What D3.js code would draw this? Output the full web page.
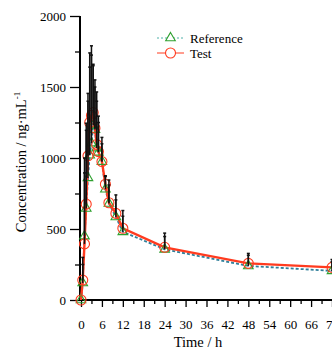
<!DOCTYPE html>
<html>
<head>
<meta charset="utf-8">
<script src="https://cdn.jsdelivr.net/npm/d3@7"></script>
<style>
  html, body { margin: 0; padding: 0; background: #fff; }
  svg { display: block; }
  svg text { font-family: "Liberation Serif", "Times New Roman", serif; }
</style>
</head>
<body>
<div id="chart"></div>
<script>
// sampling times (h)
const times = [0, 0.5, 1, 1.5, 2, 2.5, 3, 3.5, 4, 4.5, 5, 6, 7, 8, 10, 12, 24, 48, 72];
// mean concentrations (ng/mL) and SD
const refMean = [0, 120, 450, 645, 860, 1020, 1105, 1230, 1200, 1070, 1040, 975, 780, 680, 585, 480, 357, 240, 205];
const refSd = [0, 130, 550, 550, 540, 620, 620, 420, 300, 330, 210, 125, 90, 130, 120, 110, 90, 75, 65];
const testMean = [0, 140, 395, 675, 1015, 1250, 1300, 1320, 1210, 1095, 1045, 975, 815, 685, 610, 505, 371, 258, 230];
const testSd = [0, 160, 500, 570, 440, 490, 490, 340, 340, 370, 250, 170, 60, 160, 130, 125, 100, 70, 55];
const xTicks = [0, 6, 12, 18, 24, 30, 36, 42, 48, 54, 60, 66, 72];
const yTicks = [0, 500, 1000, 1500, 2000];
const seriesNames = ["Reference", "Test"];

const width = 332, height = 350;

const svg = d3.select("#chart").append("svg")
    .attr("width", width)
    .attr("height", height);

const x = d3.scaleLinear().domain([0, 72]).range([81, 332]);
const y = d3.scaleLinear().domain([0, 2000]).range([300, 16]);

const ref = times.map((t, i) => ({ t: t, v: refMean[i], sd: refSd[i] }));
const test = times.map((t, i) => ({ t: t, v: testMean[i], sd: testSd[i] }));

// axes
const xMinor = d3.range(0, 79, 3).filter(d => d % 6 !== 0);
svg.append("g")
    .attr("transform", `translate(0,${y(0)})`)
    .call(d3.axisBottom(x).tickValues(xMinor).tickSize(4).tickFormat(""))
    .call(g => g.select(".domain").remove())
    .selectAll("line").attr("stroke-width", 1.3);

const xAxis = svg.append("g")
    .attr("transform", `translate(0,${y(0)})`)
    .call(d3.axisBottom(x).tickValues(xTicks).tickSize(7).tickPadding(13).tickFormat(d3.format("d")));
xAxis.attr("font-family", null);
xAxis.select(".domain").attr("d", `M80,0H340`).attr("stroke-width", 2);
xAxis.selectAll("line").attr("stroke-width", 1.3);
xAxis.selectAll("text").attr("font-size", 13);

const yMinor = [250, 750, 1250, 1750];
svg.append("g")
    .attr("transform", `translate(80,0)`)
    .call(d3.axisLeft(y).tickValues(yMinor).tickSize(5).tickFormat(""))
    .call(g => g.select(".domain").remove())
    .selectAll("line").attr("stroke-width", 1.3);

const yAxis = svg.append("g")
    .attr("transform", `translate(80,0)`)
    .call(d3.axisLeft(y).tickValues(yTicks).tickSize(10).tickPadding(4).tickFormat(d3.format("d")));
yAxis.attr("font-family", null);
yAxis.select(".domain").attr("d", `M0,${y(2000)}V${y(0)}`).attr("stroke-width", 2);
yAxis.selectAll("line").attr("stroke-width", 1.3);
yAxis.selectAll("text").attr("font-size", 13);

// axis titles
svg.append("text")
    .attr("x", 198).attr("y", 347)
    .attr("text-anchor", "middle")
    .attr("font-size", 14.5)
    .text("Time / h");

const yt = svg.append("text")
    .attr("transform", "translate(26,162) rotate(-90)")
    .attr("text-anchor", "middle")
    .attr("font-size", 14.5);
yt.append("tspan").text("Concentration / ng\u00b7mL");
yt.append("tspan").attr("font-size", 9).attr("dy", -6).text("-1");

// lines
const line = d3.line().x(d => x(d.t)).y(d => y(d.v));

svg.append("path").datum(ref)
    .attr("fill", "none")
    .attr("stroke", "#2f7f9a")
    .attr("stroke-width", 1.8)
    .attr("stroke-dasharray", "3,2")
    .attr("d", line);

svg.append("path").datum(test)
    .attr("fill", "none")
    .attr("stroke", "#ff3b1f")
    .attr("stroke-width", 2.4)
    .attr("d", line);

// markers
const tri = d3.symbol().type(d3.symbolTriangle).size(40);
svg.append("g").selectAll("path")
    .data(ref)
    .join("path")
    .attr("d", tri)
    .attr("transform", d => `translate(${x(d.t)},${y(d.v)})`)
    .attr("fill", "none")
    .attr("stroke", "#2ea02e")
    .attr("stroke-width", 1.1);

svg.append("g").selectAll("circle")
    .data(test)
    .join("circle")
    .attr("cx", d => x(d.t))
    .attr("cy", d => y(d.v))
    .attr("r", 5)
    .attr("fill", "none")
    .attr("stroke", "#ff3b1f")
    .attr("stroke-width", 1.1);

// error bars (upper SD only)
const bars = ref.concat(test).filter(d => d.sd > 0);
const eb = svg.append("g").attr("stroke", "#111").attr("stroke-width", 1.5);
eb.selectAll("line.v")
    .data(bars)
    .join("line")
    .attr("class", "v")
    .attr("x1", d => x(d.t)).attr("x2", d => x(d.t))
    .attr("y1", d => y(d.v)).attr("y2", d => y(d.v + d.sd));
eb.selectAll("line.c")
    .data(bars)
    .join("line")
    .attr("class", "c")
    .attr("x1", d => x(d.t) - 1.5).attr("x2", d => x(d.t) + 1.5)
    .attr("y1", d => y(d.v + d.sd)).attr("y2", d => y(d.v + d.sd));

// legend
const legend = svg.append("g");
const legendY = [38, 53];
const legendColor = ["#4fb0a8", "#ff3b1f"];
legend.selectAll("line")
    .data(seriesNames)
    .join("line")
    .attr("x1", 157).attr("x2", 184)
    .attr("y1", (d, i) => legendY[i]).attr("y2", (d, i) => legendY[i])
    .attr("stroke", (d, i) => legendColor[i])
    .attr("stroke-width", 1)
    .attr("stroke-dasharray", (d, i) => i === 0 ? "2,2" : null);
legend.append("path")
    .attr("d", tri)
    .attr("transform", `translate(170.5,${legendY[0]})`)
    .attr("fill", "#fff")
    .attr("stroke", "#2ea02e")
    .attr("stroke-width", 1.1);
legend.append("circle")
    .attr("cx", 170.5).attr("cy", legendY[1]).attr("r", 5)
    .attr("fill", "#fff")
    .attr("stroke", "#ff3b1f")
    .attr("stroke-width", 1.1);
legend.selectAll("text")
    .data(seriesNames)
    .join("text")
    .attr("x", 190)
    .attr("y", (d, i) => legendY[i] + 4.5)
    .attr("font-size", 13)
    .text(d => d);
</script>
</body>
</html>
